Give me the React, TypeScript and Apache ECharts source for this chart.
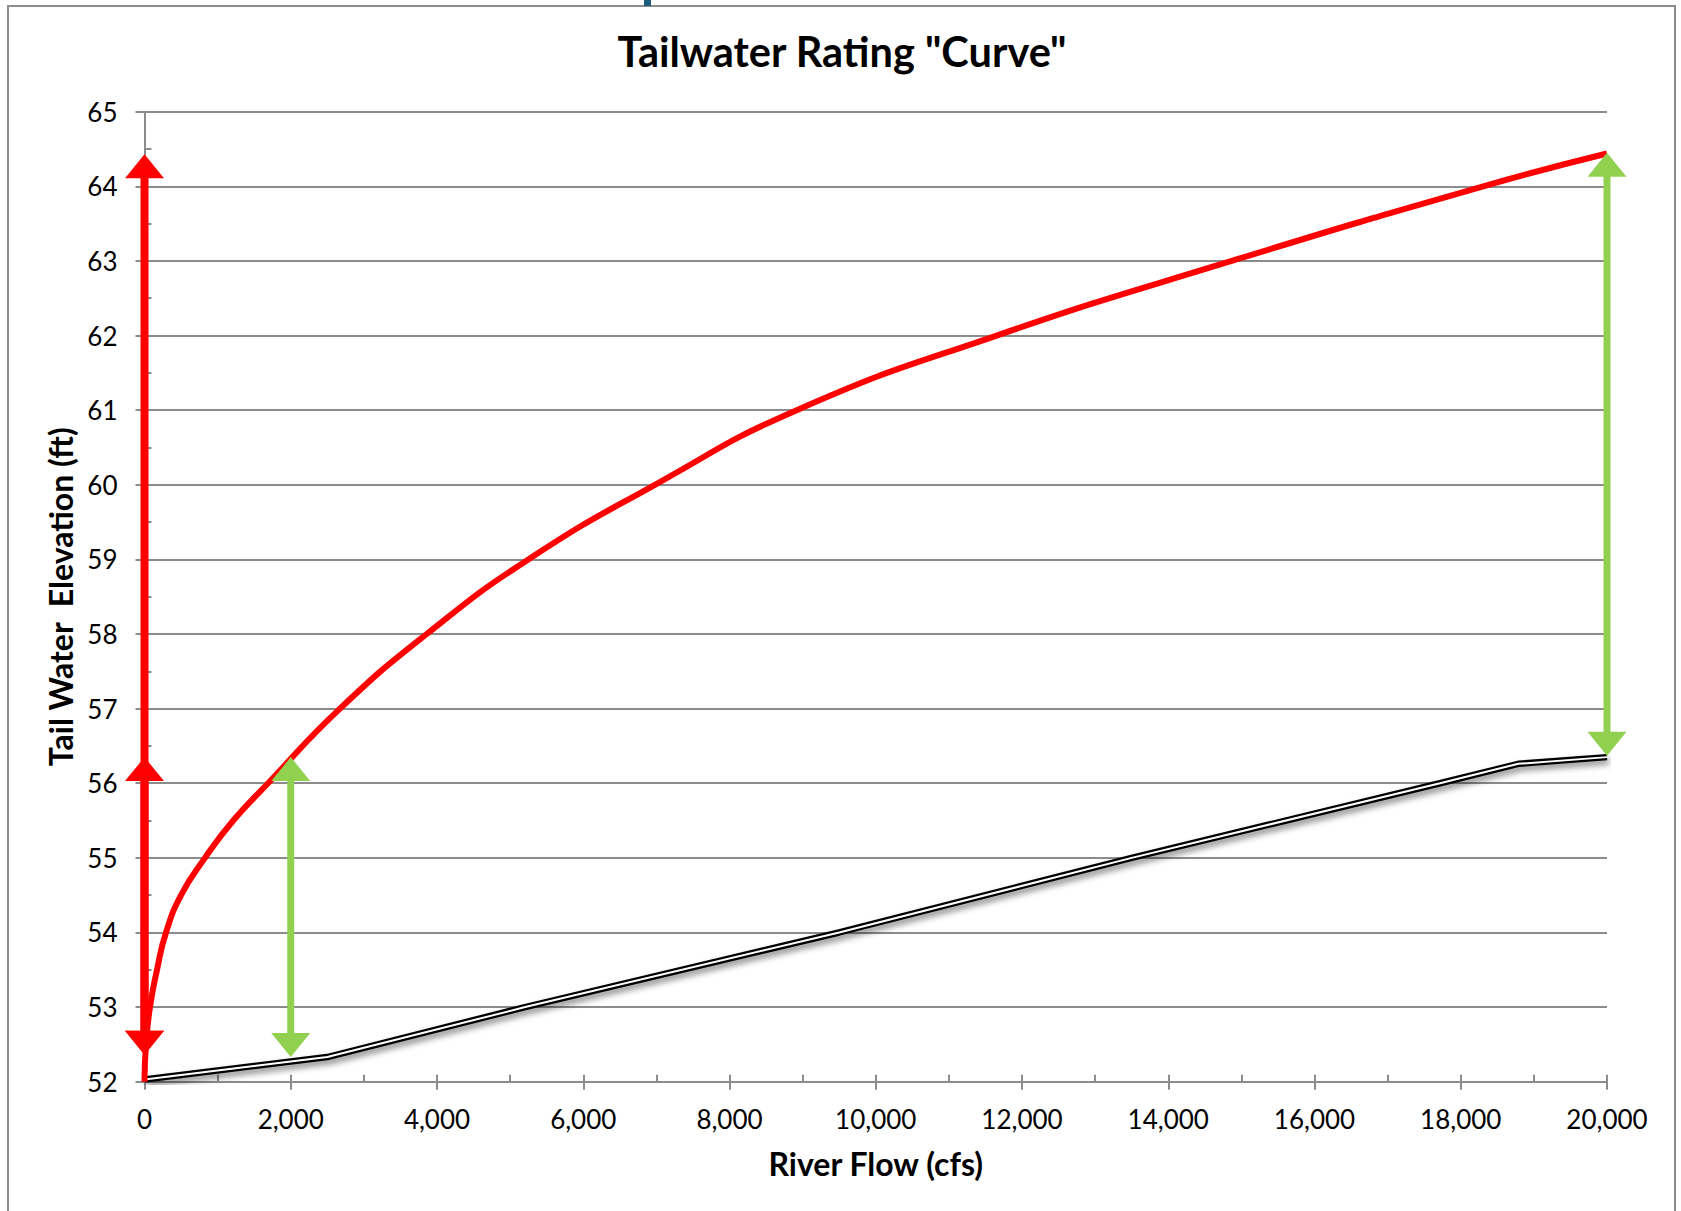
import React, { useEffect, useRef } from "react";
import * as echarts from "echarts";

const titleText = 'Tailwater Rating "Curve"';
const xAxisName = "River Flow (cfs)";
const yAxisName = "Tail Water  Elevation (ft)";

const xMin = 0;
const xMax = 20000;
const xInterval = 2000;
const xMinorInterval = 1000;
const yMin = 52;
const yMax = 65;
const yInterval = 1;
const yMinorInterval = 0.5;

// Red rating curve (river flow cfs, tailwater elevation ft)
const ratingFlow = [0, 20, 75, 171, 294, 500, 827, 1214, 1690, 2673, 3859, 5249, 6980, 8919, 11654, 14867, 18308, 20000];
const ratingElev = [52.0, 52.5, 53, 53.5, 54, 54.5, 55, 55.5, 56, 57, 58, 59, 60, 61, 62, 63, 64, 64.44];

// Black double line
const baseFlow = [0, 2500, 5206, 9500, 13500, 17716, 18787, 20000];
const baseElev = [52.03, 52.33, 53, 54, 55, 56, 56.26, 56.35];

// Red double-headed arrows
const redArrowFlow = [0, 0];
const redArrowFrom = [52.36, 52.36];
const redArrowTo = [64.43, 56.35];

// Green double-headed arrows
const greenArrowFlow = [2000, 20000];
const greenArrowFrom = [52.33, 56.37];
const greenArrowTo = [56.35, 64.45];

const GRID = "#8c8c8c";
const FONT = "Lato, 'Open Sans', sans-serif";

function makeArrowRender(color: string, shaft: number) {
  return (params: any, api: any) => {
    const x = api.value(0);
    const a = api.value(1);
    const b = api.value(2);
    const p1 = api.coord([x, a]);
    const p2 = api.coord([x, b]);
    const hw = 19.5;
    const hh = 24;
    const top = Math.min(p1[1], p2[1]);
    const bot = Math.max(p1[1], p2[1]);
    const cx = p1[0];
    return {
      type: "group",
      children: [
        {
          type: "rect",
          shape: { x: cx - shaft / 2, y: top + hh - 1, width: shaft, height: bot - top - 2 * hh + 2 },
          style: { fill: color },
        },
        {
          type: "polygon",
          shape: { points: [[cx, top], [cx - hw, top + hh], [cx + hw, top + hh]] },
          style: { fill: color },
        },
        {
          type: "polygon",
          shape: { points: [[cx, bot], [cx - hw, bot - hh], [cx + hw, bot - hh]] },
          style: { fill: color },
        },
      ],
    };
  };
}

export default function App() {
  const ref = useRef<HTMLDivElement>(null);

  useEffect(() => {
    if (!ref.current) return;
    const chart = echarts.init(ref.current, null, { renderer: "svg" });

    const rating = ratingFlow.map((f, i) => [f, ratingElev[i]]);
    const base = baseFlow.map((f, i) => [f, baseElev[i]]);
    const redArrows = redArrowFlow.map((f, i) => [f, redArrowFrom[i], redArrowTo[i]]);
    const greenArrows = greenArrowFlow.map((f, i) => [f, greenArrowFrom[i], greenArrowTo[i]]);

    const option: any = {
      animation: false,
      backgroundColor: "#ffffff",
      grid: { left: 144.5, right: 74, top: 111.7, bottom: 129.3, containLabel: false },
      graphic: [
        {
          type: "rect",
          shape: { x: 8, y: 6, width: 1667, height: 1300 },
          style: { fill: "none", stroke: "#8c8c8c", lineWidth: 2 },
          silent: true,
        },
        {
          type: "rect",
          shape: { x: 644, y: 0, width: 7, height: 6 },
          style: { fill: "#1d5e7e" },
          silent: true,
        },
        {
          type: "text",
          x: 842,
          y: 51,
          style: {
            text: titleText,
            font: `bold 41.5px ${FONT}`,
            fill: "#000000",
            align: "center",
            verticalAlign: "middle",
          },
        },
      ],
      xAxis: [
        {
          type: "value",
          min: xMin,
          max: xMax,
          interval: xInterval,
          position: "bottom",
          name: xAxisName,
          nameLocation: "middle",
          nameGap: 66,
          nameTextStyle: { fontFamily: FONT, fontWeight: "bold", fontSize: 32, color: "#000" },
          axisLine: { show: true, onZero: false, lineStyle: { color: GRID, width: 2 } },
          axisTick: { show: true, inside: false, length: 8, lineStyle: { color: GRID, width: 2 } },
          axisLabel: {
            show: true,
            margin: 24,
            fontFamily: FONT,
            fontSize: 26,
            color: "#000",
            showMinLabel: true,
            showMaxLabel: true,
            formatter: (v: number) => v.toLocaleString("en-US"),
          },
          splitLine: { show: false },
        },
        {
          type: "value",
          min: xMin,
          max: xMax,
          interval: xMinorInterval,
          position: "bottom",
          axisLine: { show: false, onZero: false },
          axisTick: { show: true, inside: true, length: 7, lineStyle: { color: GRID, width: 2 } },
          axisLabel: { show: false },
          splitLine: { show: false },
        },
      ],
      yAxis: [
        {
          type: "value",
          min: yMin,
          max: yMax,
          interval: yInterval,
          position: "left",
          name: yAxisName,
          nameLocation: "middle",
          nameGap: 68,
          nameRotate: 90,
          nameTextStyle: { fontFamily: FONT, fontWeight: "bold", fontSize: 32, color: "#000" },
          axisLine: { show: true, onZero: false, lineStyle: { color: GRID, width: 2 } },
          axisTick: { show: true, inside: false, length: 9, lineStyle: { color: GRID, width: 2 } },
          axisLabel: {
            show: true,
            margin: 27,
            fontFamily: FONT,
            fontSize: 26,
            color: "#000",
            showMinLabel: true,
            showMaxLabel: true,
          },
          splitLine: { show: true, lineStyle: { color: GRID, width: 2 } },
        },
        {
          type: "value",
          min: yMin,
          max: yMax,
          interval: yMinorInterval,
          position: "left",
          axisLine: { show: false, onZero: false },
          axisTick: { show: true, inside: true, length: 7, lineStyle: { color: GRID, width: 2 } },
          axisLabel: { show: false },
          splitLine: { show: false },
        },
      ],
      series: [
        {
          type: "line",
          name: "base-outer",
          data: base,
          xAxisIndex: 0,
          yAxisIndex: 0,
          showSymbol: false,
          symbol: "none",
          lineStyle: {
            color: "#000000",
            width: 6.5,
            shadowColor: "rgba(0,0,0,0.45)",
            shadowBlur: 6,
            shadowOffsetX: 2,
            shadowOffsetY: 4,
          },
          z: 2,
        },
        {
          type: "line",
          name: "base-inner",
          data: base,
          xAxisIndex: 0,
          yAxisIndex: 0,
          showSymbol: false,
          symbol: "none",
          lineStyle: { color: "#ffffff", width: 2 },
          z: 3,
        },
        {
          type: "line",
          name: "rating",
          data: rating,
          xAxisIndex: 0,
          yAxisIndex: 0,
          showSymbol: false,
          symbol: "none",
          smooth: 0.5,
          lineStyle: { color: "#ff0000", width: 6 },
          z: 4,
        },
        {
          type: "custom",
          name: "red-arrows",
          data: redArrows,
          xAxisIndex: 0,
          yAxisIndex: 0,
          encode: { x: 0, y: [1, 2] },
          clip: false,
          renderItem: makeArrowRender("#ff0000", 8),
          z: 5,
        },
        {
          type: "custom",
          name: "green-arrows",
          data: greenArrows,
          xAxisIndex: 0,
          yAxisIndex: 0,
          encode: { x: 0, y: [1, 2] },
          clip: false,
          renderItem: makeArrowRender("#92d050", 7),
          z: 5,
        },
      ],
    };

    chart.setOption(option);
    return () => {
      chart.dispose();
    };
  }, []);

  return (
    <div
      ref={ref}
      style={{ position: "absolute", left: 0, top: 0, width: 1681, height: 1211, background: "#fff" }}
    />
  );
}
